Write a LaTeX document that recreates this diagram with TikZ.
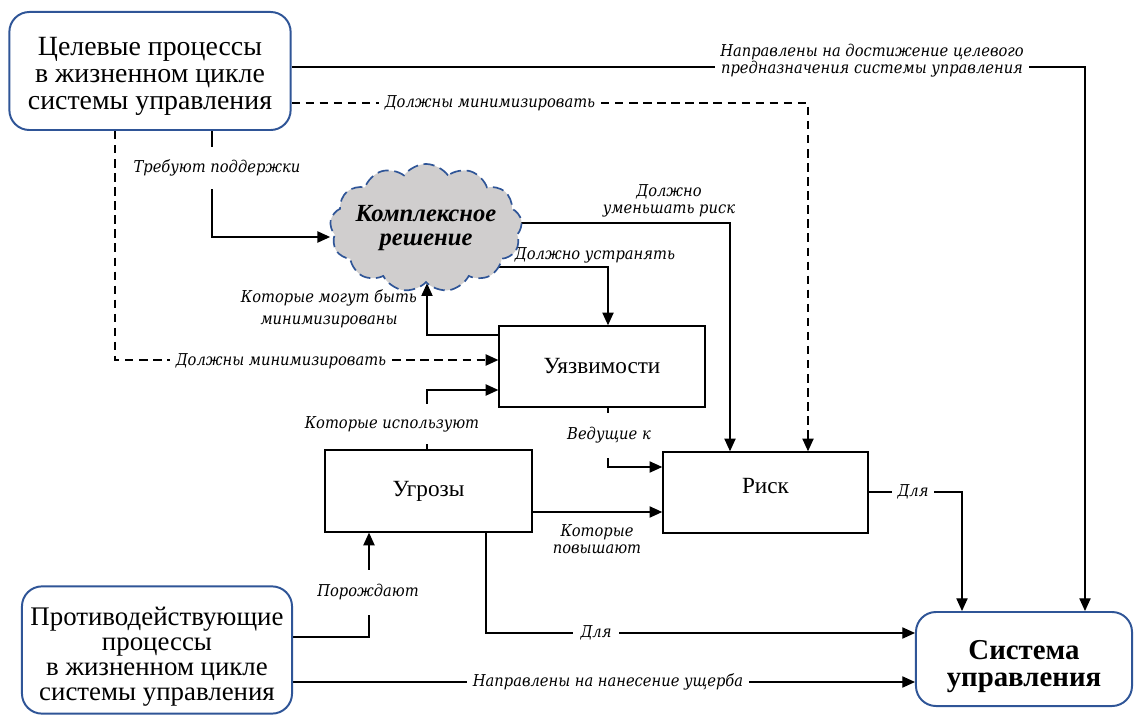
\documentclass[tikz,border=0pt]{standalone}
\usepackage{fontspec}
\setmainfont{Liberation Serif}
\newfontfamily\lblfont[FakeStretch=0.9]{DejaVu Serif}
\usepackage{tikz}
\usetikzlibrary{arrows.meta}
\usetikzlibrary{shapes.symbols}
\usetikzlibrary{backgrounds}

\definecolor{boxblue}{HTML}{2F5597}
\definecolor{cloudgray}{HTML}{D0CECE}

\begin{document}
\begin{tikzpicture}[x=0.025cm,y=-0.025cm,
  >={Triangle[length=9pt,width=8pt]},
  conn/.style={->,line width=0.9pt},
  dconn/.style={conn,dash pattern=on 6pt off 4pt},
  procbox/.style={draw=boxblue,line width=1.4pt,rounded corners=0.5cm,align=center,inner sep=0pt},
  block/.style={draw,line width=0.9pt,inner sep=0pt,font=\fontsize{16.5}{18}\selectfont},
  lbl/.style={fill=white,inner xsep=4pt,inner ysep=1pt,align=center,font=\lblfont\itshape\fontsize{11.6}{12}\selectfont}]
\useasboundingbox (0,0) rectangle (1134,716);

% blocks
\node[procbox,minimum width=7.03cm,minimum height=2.95cm,font=\fontsize{19.8}{19.2}\selectfont] (goal) at (150,71) {\rule{0pt}{20pt}Целевые процессы\\в жизненном цикле\\системы управления};
\node[procbox,minimum width=6.75cm,minimum height=3.18cm,font=\fontsize{19.1}{17.8}\selectfont] (counter) at (157,650) {\rule{0pt}{23pt}Противодействующие\\процессы\\в жизненном цикле\\системы управления};
\node[procbox,minimum width=5.4cm,minimum height=2.35cm,font=\bfseries\fontsize{20.5}{19.2}\selectfont] (sys) at (1024,659) {\rule{0pt}{24pt}Система\\управления};
\node[block,minimum width=5.15cm,minimum height=2.03cm] (vuln) at (602,366.5) {Уязвимости};
\node[block,minimum width=5.18cm,minimum height=2.05cm] (threat) at (428.5,491) {Угрозы};
\node[block,minimum width=5.13cm,minimum height=2.03cm] (risk) at (765.5,492.5) {Риск\rule[-10pt]{0pt}{0pt}};
\node[cloud,cloud puffs=13,cloud puff arc=110,aspect=1.5,draw=boxblue,dash pattern=on 8pt off 4pt,line width=1.2pt,fill=cloudgray,inner sep=-14pt,minimum width=4.8cm,minimum height=3.2cm,align=center,font=\bfseries\itshape\fontsize{17.5}{17}\selectfont] (cloud) at (426,228) {Комплексное\\решение};

% connectors
\begin{pgfonlayer}{background}
\draw[conn] (goal.east |- 0,67) -| (sys.north -| 1085,0);
\draw[dconn] (goal.east |- 0,103) -| (risk.north -| 808,0);
\draw[dconn] (goal.south -| 115,0) |- (vuln.west |- 0,360);
\draw[conn] (goal.south -| 212,0) |- (cloud.west |- 0,237);
\draw[conn] (cloud.center |- 0,223) -| (risk.north -| 730,0);
\draw[conn] (cloud.center |- 0,267) -| (vuln.north -| 608,0);
\draw[conn] (vuln.west |- 0,335) -| (cloud.south -| 427,0);
\draw[conn] (threat.north -| 427,0) |- (vuln.west |- 0,390);
\draw[conn] (vuln.south -| 608,0) |- (risk.west |- 0,467);
\draw[conn] (threat.east |- 0,512) -- (risk.west |- 0,512);
\draw[conn] (counter.east |- 0,637) -| (threat.south -| 369,0);
\draw[conn] (threat.south -| 486,0) |- (sys.west |- 0,633);
\draw[conn] (counter.east |- 0,682) -- (sys.west |- 0,682);
\draw[conn] (risk.east |- 0,492) -| (sys.north -| 962,0);
\end{pgfonlayer}

% labels
\node[lbl] (lAim) at (872,61) {Направлены на достижение целевого\\предназначения системы управления};
\node[lbl] (lMinTop) at (490,103) {Должны минимизировать};
\node[lbl] (lMinLeft) at (281,361) {Должны минимизировать};
\node[lbl,minimum height=30pt] (lSupport) at (217,168) {Требуют поддержки};
\node[lbl,fill=none] (lReduce) at (669,201) {Должно\\уменьшать риск};
\node[lbl,fill=none] (lRemove) at (595,255) {Должно устранять};
\node[lbl,fill=none,font=\lblfont\itshape\fontsize{11.6}{15.6}\selectfont] (lCanMin) at (329,309) {Которые могут быть\\минимизированы};
\node[lbl,minimum height=28pt] (lUse) at (392,424) {Которые используют};
\node[lbl,minimum height=32pt] (lLead) at (609,435) {Ведущие к};
\node[lbl,fill=none] (lRaise) at (597,539) {Которые\\повышают};
\node[lbl,minimum height=32pt] (lSpawn) at (368,592) {Порождают};
\node[lbl,inner xsep=5pt] (lForA) at (596,633) {Для};
\node[lbl] (lHarm) at (608,682) {Направлены на нанесение ущерба};
\node[lbl] (lForB) at (913,492) {Для};
\end{tikzpicture}
\end{document}
